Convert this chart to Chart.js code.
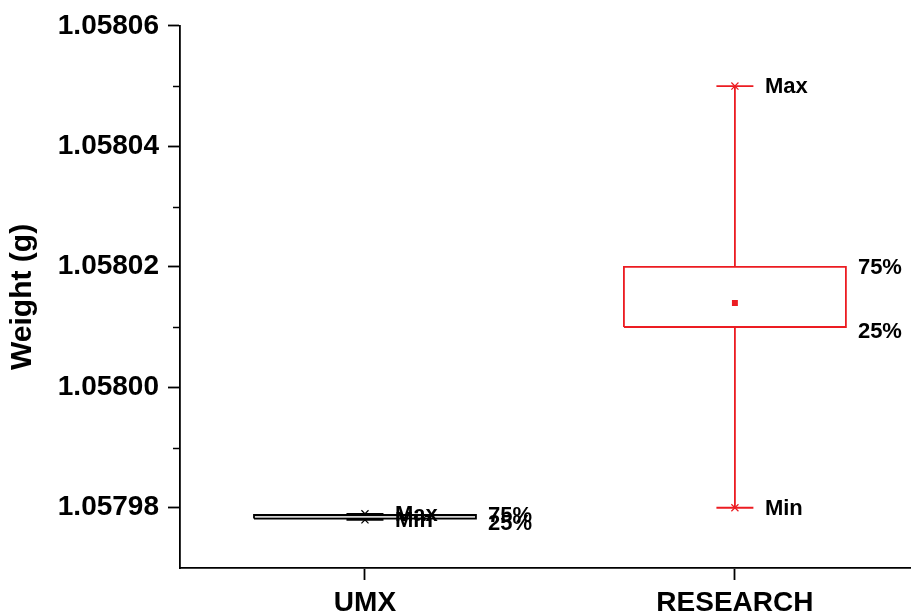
<!DOCTYPE html>
<html>
<head>
<meta charset="utf-8">
<style>
  html, body { margin: 0; padding: 0; background: #fff; }
  canvas { display: block; }
</style>
<script src="https://cdn.jsdelivr.net/npm/chart.js@4/dist/chart.umd.min.js"></script>
</head>
<body>
<canvas id="myChart" width="911" height="613"></canvas>
<script>
const categories = ['UMX', 'RESEARCH']
const minValues = [1.057978, 1.05798]
const q1Values = [1.0579782, 1.05801]
const meanValues = [1.0579785, 1.058014]
const q3Values = [1.0579788, 1.05802]
const maxValues = [1.057979, 1.05805]
const yTicks = [1.05798, 1.05800, 1.05802, 1.05804, 1.05806]
const yMinorTicks = [1.05799, 1.05801, 1.05803, 1.05805]

const colors = ['#000000', '#ec1c22']
const fills = ['#d4d4d4', 'rgba(255,255,255,0)']
const BOX_HALF = 0.3
const CAP_HALF = 0.05
const FONT = '"Liberation Sans", Arial, sans-serif'

const buildDatasets = () => {
  const sets = []
  categories.forEach((cat, i) => {
    const x = i + 1
    sets.push({
      type: 'line',
      data: [
        {x: x - BOX_HALF, y: q1Values[i]}, {x: x + BOX_HALF, y: q1Values[i]},
        {x: x + BOX_HALF, y: q3Values[i]}, {x: x - BOX_HALF, y: q3Values[i]},
        {x: x - BOX_HALF, y: q1Values[i]}
      ],
      borderColor: colors[i],
      backgroundColor: fills[i],
      borderWidth: 1.8,
      fill: 'shape',
      pointRadius: 0,
      tension: 0
    })
    sets.push({
      type: 'line',
      data: [
        {x: x, y: q3Values[i]}, {x: x, y: maxValues[i]}, {x: x, y: null},
        {x: x - CAP_HALF, y: maxValues[i]}, {x: x + CAP_HALF, y: maxValues[i]}, {x: x, y: null},
        {x: x, y: q1Values[i]}, {x: x, y: minValues[i]}, {x: x, y: null},
        {x: x - CAP_HALF, y: minValues[i]}, {x: x + CAP_HALF, y: minValues[i]}
      ],
      borderColor: colors[i],
      borderWidth: 1.8,
      fill: false,
      pointRadius: 0,
      spanGaps: false,
      tension: 0
    })
    sets.push({
      type: 'scatter',
      data: [{x: x, y: maxValues[i]}, {x: x, y: minValues[i]}],
      pointStyle: 'crossRot',
      pointRadius: 5,
      borderColor: colors[i],
      borderWidth: 1.2
    })
    sets.push({
      type: 'scatter',
      data: [{x: x, y: meanValues[i]}],
      pointStyle: 'rect',
      pointRadius: 4.2,
      backgroundColor: colors[i],
      borderColor: colors[i],
      borderWidth: 0
    })
  })
  return sets
}

const boxLabels = {
  id: 'boxLabels',
  afterDatasetsDraw(chart) {
    const {ctx, scales: {x: xs, y: ys}} = chart
    ctx.save()
    ctx.fillStyle = '#000'
    ctx.font = 'bold 22px ' + FONT
    ctx.textAlign = 'left'
    ctx.textBaseline = 'middle'
    categories.forEach((cat, i) => {
      const cx = xs.getPixelForValue(i + 1)
      const right = xs.getPixelForValue(i + 1 + BOX_HALF)
      ctx.fillText('Max', cx + 30, ys.getPixelForValue(maxValues[i]) + 1)
      ctx.fillText('Min', cx + 30, ys.getPixelForValue(minValues[i]) + 1)
      ctx.fillText('75%', right + 12, ys.getPixelForValue(q3Values[i]) + 1)
      ctx.fillText('25%', right + 12, ys.getPixelForValue(q1Values[i]) + 5)
    })
    ctx.restore()
  },
  afterDraw(chart) {
    const {ctx, scales: {y: ys}} = chart
    const left = chart.chartArea.left
    ctx.save()
    ctx.strokeStyle = '#000'
    ctx.lineWidth = 1.5
    yMinorTicks.forEach(v => {
      const py = Math.round(ys.getPixelForValue(v)) + 0.5
      ctx.beginPath()
      ctx.moveTo(left - 7, py)
      ctx.lineTo(left, py)
      ctx.stroke()
    })
    ctx.restore()
  }
}

const config = {
  type: 'scatter',
  data: {datasets: buildDatasets()},
  options: {
    responsive: false,
    animation: false,
    layout: {autoPadding: false, padding: {top: 24, right: 0, bottom: 0, left: 0}},
    plugins: {legend: {display: false}, tooltip: {enabled: false}},
    scales: {
      x: {
        type: 'linear',
        min: 0.5,
        max: 2.476,
        afterBuildTicks: (scale) => { scale.ticks = categories.map((c, i) => ({value: i + 1})) },
        afterFit: (scale) => {
          scale.height = 45
          scale.paddingLeft = 0
          scale.paddingRight = 0
        },
        border: {color: '#000', width: 1.8},
        grid: {drawOnChartArea: false, drawTicks: true, tickLength: 12, tickColor: '#000', tickWidth: 1.8},
        ticks: {
          color: '#000',
          padding: 6,
          maxRotation: 0,
          font: {family: FONT, size: 28, weight: 'bold'},
          callback: (value) => categories[value - 1]
        }
      },
      y: {
        type: 'linear',
        min: 1.05797,
        max: 1.05806,
        afterBuildTicks: (scale) => { scale.ticks = yTicks.map(v => ({value: v})) },
        afterFit: (scale) => { scale.width = 180 },
        border: {color: '#000', width: 1.8},
        grid: {drawOnChartArea: false, drawTicks: true, tickLength: 12, tickColor: '#000', tickWidth: 1.8},
        ticks: {
          color: '#000',
          padding: 9,
          font: {family: FONT, size: 28, weight: 'bold'},
          callback: (value) => Number(value).toFixed(5)
        },
        title: {
          display: true,
          text: 'Weight (g)',
          color: '#000',
          padding: {top: 5, bottom: 0},
          font: {family: FONT, size: 30, weight: 'bold'}
        }
      }
    }
  },
  plugins: [boxLabels]
}

new Chart(document.getElementById('myChart').getContext('2d'), config)
</script>
</body>
</html>
